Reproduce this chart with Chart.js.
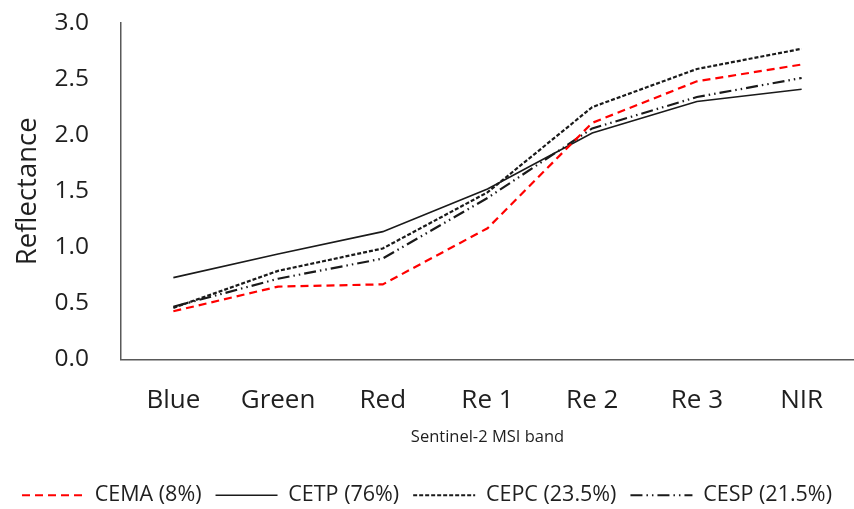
<!DOCTYPE html>
<html>
<head>
<meta charset="utf-8">
<script src="https://cdn.jsdelivr.net/npm/chart.js@4.4.1/dist/chart.umd.min.js"></script>
<style>
html,body{margin:0;padding:0;background:#fff;}
#wrap{width:854px;height:509px;}
</style>
</head>
<body>
<div id="wrap"><canvas id="c" width="854" height="509"></canvas></div>
<script>
const bands = ["Blue", "Green", "Red", "Re 1", "Re 2", "Re 3", "NIR"];
const seriesNames = ["CEMA (8%)", "CETP (76%)", "CEPC (23.5%)", "CESP (21.5%)"];
const cema = [0.43, 0.65, 0.67, 1.17, 2.11, 2.48, 2.63];
const cetp = [0.73, 0.94, 1.14, 1.52, 2.02, 2.30, 2.41];
const cepc = [0.46, 0.79, 0.99, 1.49, 2.25, 2.59, 2.77];
const cesp = [0.47, 0.72, 0.90, 1.44, 2.06, 2.34, 2.51];
const yTicks = [0, 0.5, 1.0, 1.5, 2.0, 2.5, 3.0];

const FONT = "'Open Sans', sans-serif";
const TXT = '#1f1f1f';
const ctx = document.getElementById('c').getContext('2d');
new Chart(ctx, {
  type: 'line',
  data: {
    labels: bands,
    datasets: [
      {label: seriesNames[0], data: cema, borderColor: '#ff0000', backgroundColor: '#ff0000', borderWidth: 2.2, borderDash: [8, 5]},
      {label: seriesNames[1], data: cetp, borderColor: '#1a1a1a', backgroundColor: '#1a1a1a', borderWidth: 1.6, borderDash: []},
      {label: seriesNames[2], data: cepc, borderColor: '#1a1a1a', backgroundColor: '#1a1a1a', borderWidth: 2.2, borderDash: [4, 2]},
      {label: seriesNames[3], data: cesp, borderColor: '#1a1a1a', backgroundColor: '#1a1a1a', borderWidth: 2.2, borderDash: [12, 4, 1.5, 4, 1.5, 4]}
    ]
  },
  options: {
    responsive: false,
    animation: false,
    layout: {padding: {left: 0, right: 0, top: 23, bottom: -7}},
    elements: {point: {radius: 0}, line: {tension: 0}},
    plugins: {
      tooltip: {enabled: false},
      legend: {
        position: 'bottom',
        labels: {
          usePointStyle: true,
          pointStyle: 'line',
          pointStyleWidth: 62,
          boxHeight: 21,
          padding: 14,
          color: TXT,
          font: {family: FONT, size: 21.5},
          generateLabels: (chart) => {
            const items = Chart.defaults.plugins.legend.labels.generateLabels(chart);
            items.forEach(it => {
              const ds = chart.data.datasets[it.datasetIndex];
              it.lineDash = ds.borderDash;
              it.lineWidth = ds.borderWidth;
              it.strokeStyle = ds.borderColor;
              it.pointStyle = 'line';
            });
            return items;
          }
        }
      }
    },
    scales: {
      x: {
        offset: true,
        grid: {display: false, drawTicks: false},
        border: {display: true, color: '#595959', width: 1.5},
        ticks: {color: TXT, font: {family: FONT, size: 26}, padding: 25},
        title: {display: true, text: 'Sentinel-2 MSI band', color: TXT, font: {family: FONT, size: 16.5}, padding: {top: 6, bottom: 23}},
        afterFit: (axis) => { axis.height = 111; }
      },
      y: {
        min: 0, max: 3,
        afterBuildTicks: (axis) => { axis.ticks = yTicks.map(v => ({value: v})); },
        grid: {display: false, drawTicks: false},
        border: {display: true, color: '#595959', width: 1.5},
        ticks: {color: TXT, font: {family: FONT, size: 24.5}, padding: 32, callback: v => Number(v).toFixed(1)},
        title: {display: true, text: 'Reflectance', color: TXT, font: {family: FONT, size: 27.5}, padding: {top: 12, bottom: 8}},
        afterFit: (axis) => { axis.width = 121; axis.paddingTop = 0; axis.paddingBottom = 0; }
      }
    }
  }
});
</script>
</body>
</html>
